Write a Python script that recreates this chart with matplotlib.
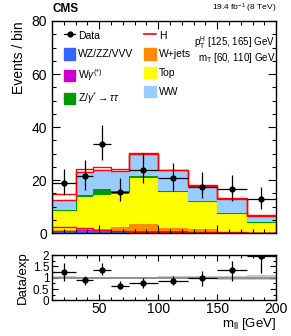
import numpy as np
import matplotlib
matplotlib.use("Agg")
import matplotlib.pyplot as plt
from matplotlib.patches import Patch
from matplotlib.lines import Line2D
from matplotlib.ticker import MultipleLocator

plt.rcParams['font.family'] = ['Liberation Sans', 'DejaVu Sans']
plt.rcParams['mathtext.fontset'] = 'custom'
plt.rcParams['mathtext.rm'] = 'Liberation Sans'
plt.rcParams['mathtext.it'] = 'Liberation Sans:italic'

# m_ll bins [GeV]
edges = [10, 30, 45, 60, 75, 100, 125, 150, 175, 200]

# stacked backgrounds, bottom to top
wz = [0.8, 0.9, 0.9, 0.6, 0.7, 0.6, 0.4, 0.2, 0.2]
wgamma = [0.1, 0.1, 0.1, 0.1, 0.2, 0.1, 0.1, 0.05, 0.05]
wjets = [0.2, 0.6, 0.5, 1.6, 2.4, 1.3, 0.9, 0.1, 0.1]
top = [7.1, 11.9, 13.0, 12.5, 17.4, 13.6, 10.5, 6.75, 3.55]
ztt = [0.3, 0.9, 2.0, 1.2, 0.9, 0.4, 0.3, 0.3, 0.4]
ww = [4.0, 8.8, 7.4, 7.4, 8.4, 7.6, 5.7, 5.5, 2.3]
higgs = [2.3, 0.9, 1.0, 0.7, 0.3, 0.3, 0.2, 0.2, 0.1]
higgs_alone = [2.2, 1.9, 1.1, 0.8, 0.5, 0.4, 0.3, 0.2, 0.1]

# data
data = [18.9, 21.6, 33.6, 15.6, 23.6, 20.6, 17.5, 16.7, 12.8]
data_up = [5.3, 5.8, 7.0, 5.1, 6.6, 5.8, 5.7, 5.3, 4.5]
data_dn = [4.5, 5.3, 6.0, 3.7, 4.8, 4.6, 4.4, 4.5, 3.8]

# ratio panel
ratio = [1.25, 0.88, 1.35, 0.62, 0.77, 0.84, 0.99, 1.32, 1.96]
ratio_up = [0.39, 0.20, 0.29, 0.22, 0.22, 0.25, 0.29, 0.43, 0.55]
ratio_dn = [0.41, 0.21, 0.22, 0.14, 0.22, 0.18, 0.35, 0.48, 0.76]
syst = [0.06, 0.05, 0.05, 0.05, 0.05, 0.06, 0.06, 0.08, 0.10]

edges = np.array(edges)
centers = 0.5 * (edges[1:] + edges[:-1])
halfw = 0.5 * (edges[1:] - edges[:-1])

fig = plt.figure(figsize=(2.91, 3.36), dpi=100)
ax = fig.add_axes([0.179, 0.3065, 0.770, 0.631])
rax = fig.add_axes([0.179, 0.106, 0.770, 0.135])

components = [
    (wz, '#3366ff', 'WZ/ZZ/VVV'),
    (wgamma, '#cc00cc', r'W$\gamma^{(*)}$'),
    (wjets, '#ff8c00', 'W+jets'),
    (top, '#ffff00', 'Top'),
    (ztt, '#009900', r'Z/$\gamma^{*}\rightarrow\tau\tau$'),
    (ww, '#99ccff', 'WW'),
]

base = np.zeros(len(data))
handles = {}
for vals, col, lab in components:
    tot = base + np.array(vals)
    ax.stairs(tot, edges, baseline=base, fill=True, color=col, lw=0)
    ax.stairs(tot, edges, baseline=None, color=col, lw=0.8)
    handles[lab] = Patch(facecolor=col, edgecolor=col)
    base = tot

# signal stacked on top and alone
ax.stairs(base + np.array(higgs), edges, baseline=base, color='red', lw=1.0)
ax.stairs(higgs_alone, edges, baseline=0, color='red', lw=1.0)

ax.errorbar(centers, data, xerr=halfw, yerr=[data_dn, data_up], fmt='o',
            color='black', ms=3.5, lw=0.9, capsize=0)

ax.set_xlim(10, 200)
ax.set_ylim(0, 80)
ax.set_ylabel('Events / bin', fontsize=10, loc='top')
ax.yaxis.set_major_locator(MultipleLocator(20))
ax.yaxis.set_minor_locator(MultipleLocator(5))
ax.xaxis.set_major_locator(MultipleLocator(50))
ax.xaxis.set_minor_locator(MultipleLocator(10))
ax.tick_params(axis='x', labelbottom=False)

for a in (ax, rax):
    a.tick_params(which='both', direction='in', top=True, right=True, width=0.8)
    a.tick_params(which='major', length=6, labelsize=10)
    a.tick_params(which='minor', length=3)
    for s in a.spines.values():
        s.set_linewidth(1.0)

order = ['Data', 'WZ/ZZ/VVV', r'W$\gamma^{(*)}$', r'Z/$\gamma^{*}\rightarrow\tau\tau$',
         'H', 'W+jets', 'Top', 'WW']
handles['Data'] = Line2D([], [], color='black', marker='o', ms=3.5, lw=0.9)
handles['H'] = Line2D([], [], color='red', lw=1.2)
ax.legend([handles[k] for k in order], order, ncol=2, loc='upper left',
          bbox_to_anchor=(0.02, 0.995), frameon=False, fontsize=7.5,
          handlelength=1.1, handleheight=1.3, labelspacing=0.72,
          columnspacing=1.0, handletextpad=0.3, borderpad=0.2)

ax.text(0.995, 0.9, r'p$_{\rm T}^{\rm H}$ [125, 165] GeV', transform=ax.transAxes,
        ha='right', va='center', fontsize=7)
ax.text(0.995, 0.825, r'm$_{\rm T}$ [60, 110] GeV', transform=ax.transAxes,
        ha='right', va='center', fontsize=7)

fig.text(0.182, 0.955, 'CMS', fontsize=8.5, fontweight='bold', ha='left', va='bottom')
fig.text(0.949, 0.955, r'19.4 fb$^{-1}$ (8 TeV)', fontsize=6, ha='right', va='bottom')

# ratio
one = np.ones(len(syst))
rax.stairs(one + np.array(syst), edges, baseline=one - np.array(syst), fill=True,
           color='#c8c8c8', lw=0)
rax.axhline(1, color='#888888', lw=1.2)
rax.errorbar(centers, ratio, xerr=halfw, yerr=[ratio_dn, ratio_up], fmt='o',
             color='black', ms=3.5, lw=0.9, capsize=0)
rax.set_xlim(10, 200)
rax.set_ylim(0, 2)
rax.set_yticks([0, 0.5, 1, 1.5, 2])
rax.set_yticklabels(['0', '0.5', '1', '1.5', '2'])
rax.yaxis.set_minor_locator(MultipleLocator(0.25))
rax.xaxis.set_major_locator(MultipleLocator(50))
rax.xaxis.set_minor_locator(MultipleLocator(10))
rax.tick_params(axis='y', labelsize=8.5, pad=2)
rax.tick_params(axis='x', pad=1.5)
rax.tick_params(which='major', length=4)
rax.tick_params(which='minor', length=2)
rax.set_ylabel('Data/exp', fontsize=9.5, labelpad=3)
rax.set_xlabel(r'm$_{\rm ll}$ [GeV]', fontsize=9.5, loc='right', labelpad=0)

fig.savefig('out.png', dpi=100)
